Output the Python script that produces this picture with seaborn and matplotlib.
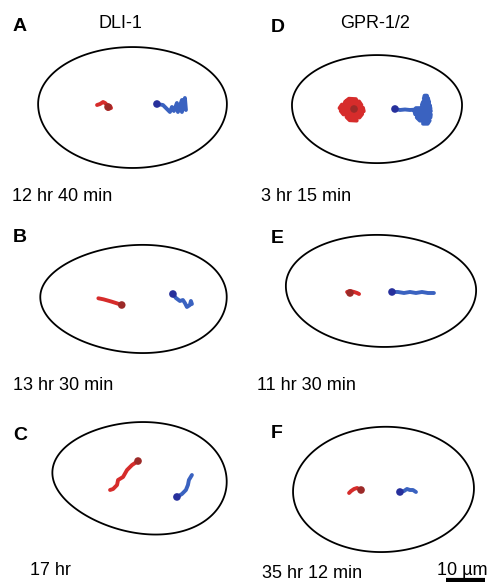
import numpy as np
import matplotlib
matplotlib.use("Agg")
import matplotlib.pyplot as plt
from matplotlib.patches import Polygon
import seaborn as sns

# track coordinates in um, relative to the embryo centre (x to the right, y up)
# the first point of each track is the start position (dark dot)
A_RED = [(-6.27, -0.77), (-6.27, -1.28), (-5.50, -1.02), (-5.76, -0.51), (-6.53, -0.26),
         (-7.04, 0.26), (-7.55, 0.51), (-8.32, 0.0), (-9.09, -0.26)]
A_BLUE = [(6.27, 0.0), (7.81, -0.26), (8.83, -1.28), (9.60, -2.05), (10.11, -0.77), (10.62, -1.79),
          (11.39, 0.26), (11.65, -2.05), (12.67, 1.02), (12.67, -2.05), (13.44, 1.54), (13.70, -1.54)]

B_RED = [(-3.02, -2.05), (-4.30, -1.61), (-5.58, -1.20), (-6.45, -0.95), (-7.73, -0.59), (-9.01, -0.33)]
B_BLUE = [(10.11, 0.77), (10.88, -0.26), (11.90, -1.02), (12.67, -0.77), (13.18, -1.54),
          (13.70, -2.56), (14.46, -2.05), (14.72, -1.02), (14.98, -1.79)]

C_RED = [(-0.38, 4.35), (-1.92, 3.33), (-3.20, 2.05), (-4.22, 0.26), (-5.50, -0.51),
         (-5.76, -1.79), (-6.78, -2.82), (-7.55, -3.07)]
C_BLUE = [(9.60, -4.86), (10.88, -4.10), (11.90, -3.07), (12.42, -1.79), (12.67, -0.51), (13.44, 0.77)]

D_RED = [(-5.89, -1.02), (-5.4, 1.5), (-7.2, 1.6), (-8.2, 0.8), (-4.6, 0.9), (-4.0, 0.0), (-9.0, 0.1),
         (-9.6, -0.8), (-3.6, -0.7), (-3.4, -1.6), (-9.3, -1.5), (-8.6, -2.4), (-3.8, -2.3),
         (-4.5, -3.2), (-7.8, -3.1), (-7.0, -3.9), (-5.2, -4.0)]
D_BLUE = [(4.61, -1.02), (5.89, -1.28), (7.17, -1.15), (8.45, -1.28), (9.6, -1.2), (10.0, -0.8),
          (13.7, -0.8), (13.5, 0.0), (11.5, 0.0), (11.8, 0.8), (13.3, 0.8), (13.1, 1.6), (12.0, 1.6),
          (12.2, 2.4), (12.8, 2.4), (13.8, -1.6), (9.6, -1.6), (9.8, -2.4), (13.8, -2.4),
          (13.7, -3.2), (10.2, -3.2), (11.0, -4.0), (13.5, -4.0), (13.0, -4.8), (11.8, -4.8)]

E_RED = [(-7.94, -1.28), (-8.70, -1.02), (-7.94, -0.77), (-6.91, -1.02), (-6.14, -1.28), (-5.63, -1.54)]
E_BLUE = [(2.82, -1.02), (4.35, -1.02), (5.89, -1.28), (7.42, -1.02), (8.96, -1.28),
          (10.50, -1.02), (12.03, -1.28), (13.57, -1.28)]

F_RED = [(-5.76, 0.0), (-6.78, 0.51), (-7.55, 0.26), (-8.32, -0.26), (-8.83, -0.77)]
F_BLUE = [(4.22, -0.51), (5.25, -0.26), (6.02, 0.26), (6.78, 0.0), (7.55, 0.0), (8.32, -0.51)]

# embryo outline: half length, half height above / below, egg factor, tilt (deg)
OUTLINES = {
    "A": (24.2, 14.6, 16.4, 0.0, 0),
    "B": (23.9, 13.3, 14.3, 0.10, 0),
    "C": (22.4, 14.4, 14.1, 0.12, -5),
    "D": (21.8, 12.8, 14.9, 0.0, 0),
    "E": (24.4, 13.6, 15.1, 0.0, -2),
    "F": (23.2, 16.2, 15.9, 0.0, 2),
}
TIMES = ["12 hr 40 min", "13 hr 30 min", "17 hr", "3 hr 15 min", "11 hr 30 min", "35 hr 12 min"]
TITLES = ["DLI-1", "GPR-1/2"]
SCALE_UM = 10

W, H = 488, 582
PX_PER_UM = 3.9
RED, RED_DOT = "#d62c2b", "#9c2a28"
BLUE, BLUE_DOT = "#3a62c0", "#27309c"

sns.set_theme(style="white")
plt.rcParams["font.family"] = ["Liberation Sans", "DejaVu Sans"]
plt.rcParams["text.color"] = "black"

fig = plt.figure(figsize=(W / 100, H / 100), dpi=100)
fig.patch.set_facecolor("white")


def fx(x):
    return x / W


def fy(y):
    return 1 - y / H


# panel layout: letter, embryo centre (px), tracks
panels = [
    ("A", (132.5, 104), A_RED, A_BLUE),
    ("B", (133.5, 297), B_RED, B_BLUE),
    ("C", (139.5, 478), C_RED, C_BLUE),
    ("D", (377, 105), D_RED, D_BLUE),
    ("E", (381, 288), E_RED, E_BLUE),
    ("F", (383.5, 490), F_RED, F_BLUE),
]

box_w, box_h = 240, 160
axes = {}
for letter, (cx, cy), red, blue in panels:
    ax = fig.add_axes([fx(cx - box_w / 2), fy(cy + box_h / 2), box_w / W, box_h / H])
    ax.set_xlim(-box_w / 2 / PX_PER_UM, box_w / 2 / PX_PER_UM)
    ax.set_ylim(-box_h / 2 / PX_PER_UM, box_h / 2 / PX_PER_UM)
    ax.axis("off")
    axes[letter] = ax

    a, bt, bb, egg, tilt = OUTLINES[letter]
    t = np.linspace(0, 2 * np.pi, 400, endpoint=False)
    b = np.where(np.sin(t) >= 0, bt, bb)
    ox = a * np.cos(t)
    oy = b * np.sin(t) * (1 + egg * np.cos(t))
    th = np.deg2rad(tilt)
    rx = ox * np.cos(th) - oy * np.sin(th)
    ry = ox * np.sin(th) + oy * np.cos(th)
    ax.add_patch(Polygon(np.column_stack([rx, ry]), closed=True, fill=False,
                         edgecolor="black", lw=1.3, joinstyle="round"))

    for track, col, dot in [(red, RED, RED_DOT), (blue, BLUE, BLUE_DOT)]:
        arr = np.array(track)
        sns.lineplot(x=arr[:, 0], y=arr[:, 1], sort=False, estimator=None, ax=ax,
                     color=col, lw=2.8, solid_capstyle="round", solid_joinstyle="round")
        sns.scatterplot(x=arr[:1, 0], y=arr[:1, 1], ax=ax, color=dot, s=30,
                        edgecolor="none", zorder=5)

# scale bar under panel F
axF = axes["F"]
x0 = (446 - 383.5) / PX_PER_UM
ybar = (490 - 579.5) / PX_PER_UM
axF.plot([x0, x0 + SCALE_UM], [ybar, ybar], color="black", lw=3, solid_capstyle="butt", clip_on=False)
fig.text(fx(462), fy(575), f"{SCALE_UM} µm", ha="center", va="baseline", fontsize=13)

# panel letters
letter_pos = {"A": (13, 31), "B": (13, 242), "C": (13, 440), "D": (271, 32), "E": (271, 243), "F": (271, 438)}
for letter, (x, y) in letter_pos.items():
    fig.text(fx(x), fy(y), letter, fontsize=14, fontweight="bold", va="baseline", ha="left")

# column titles
fig.text(fx(120), fy(28), TITLES[0], fontsize=13, ha="center", va="baseline")
fig.text(fx(375), fy(28), TITLES[1], fontsize=13, ha="center", va="baseline")

# time labels
time_pos = [(12, 201), (13, 390), (30, 575), (261, 201), (257, 390), (262, 578)]
for label, (x, y) in zip(TIMES, time_pos):
    fig.text(fx(x), fy(y), label, fontsize=13, ha="left", va="baseline")

fig.savefig("out.png", dpi=100, facecolor="white")
